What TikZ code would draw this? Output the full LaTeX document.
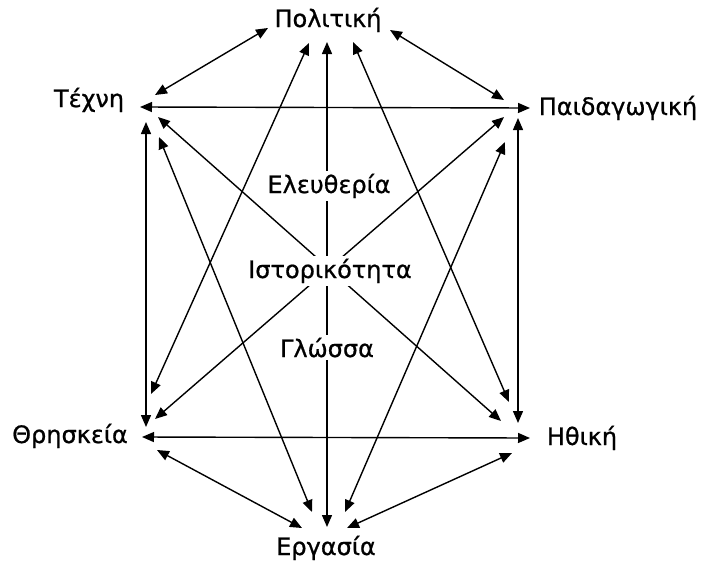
\documentclass[tikz,border=0pt]{standalone}
\usepackage{fontspec}
\setmainfont{DejaVu Sans}[FakeBold=0.8]
\usetikzlibrary{arrows.meta}
\tikzset{
  lbl/.style={font=\fontsize{24}{28}\selectfont, inner sep=0pt},
  mid/.style={font=\fontsize{24}{28}\selectfont, fill=white, inner sep=3pt},
  conn/.style={line width=1.4pt, {Triangle[length=12pt,width=10pt]}-{Triangle[length=12pt,width=10pt]}},
}
\begin{document}
\begin{tikzpicture}[x=1pt,y=-1pt]
\useasboundingbox[fill=white] (0,0) rectangle (703,560);
% outer nodes (anchored at baseline)
\node[lbl, anchor=base] (pol) at (328,27) {Πολιτική};
\node[lbl, anchor=base] (tex) at (89,107) {Τέχνη};
\node[lbl, anchor=base] (ped) at (618,115) {Παιδαγωγική};
\node[lbl, anchor=base] (thr) at (70,443) {Θρησκεία};
\node[lbl, anchor=base] (ith) at (582,445) {Ηθική};
\node[lbl, anchor=base] (erg) at (326,555) {Εργασία};
% horizontal and vertical connectors
\draw[conn] ([shift={(51,0)}]tex.base) -- ([shift={(-88,-7)}]ped.base);
\draw[conn] ([shift={(72,-6)}]thr.base) -- ([shift={(-52,-7)}]ith.base);
\draw[conn] ([shift={(57,15)}]tex.base) -- ([shift={(76,-16)}]thr.base);
\draw[conn] ([shift={(-100,3)}]ped.base) -- ([shift={(-64,-22)}]ith.base);
\draw[conn] ([shift={(-1,15)}]pol.base) -- ([shift={(1,-28)}]erg.base);
% diagonal connectors
\draw[conn] ([shift={(66,-12)}]tex.base) -- ([shift={(-60,1)}]pol.base);
\draw[conn] ([shift={(62,3)}]pol.base) -- ([shift={(-114,-15)}]ped.base);
\draw[conn] ([shift={(87,7)}]thr.base) -- ([shift={(-24,-27)}]erg.base);
\draw[conn] ([shift={(-70,8)}]ith.base) -- ([shift={(21,-27)}]erg.base);
\draw[conn] ([shift={(81,-49)}]thr.base) -- ([shift={(-19,16)}]pol.base);
\draw[conn] ([shift={(85,-24)}]thr.base) -- ([shift={(-114,2)}]ped.base);
\draw[conn] ([shift={(69,10)}]tex.base) -- ([shift={(-81,-24)}]ith.base);
\draw[conn] ([shift={(70,30)}]tex.base) -- ([shift={(-14,-43)}]erg.base);
\draw[conn] ([shift={(25,15)}]pol.base) -- ([shift={(-73,-43)}]ith.base);
\draw[conn] ([shift={(-113,27)}]ped.base) -- ([shift={(19,-43)}]erg.base);
% central labels
\node[mid, anchor=base] (ele) at (329,193) {Ελευθερία};
\node[mid, anchor=base] (ist) at (330,278) {Ιστορικότητα};
\node[mid, anchor=base] (glo) at (327,357) {Γλώσσα};
\end{tikzpicture}
\end{document}
